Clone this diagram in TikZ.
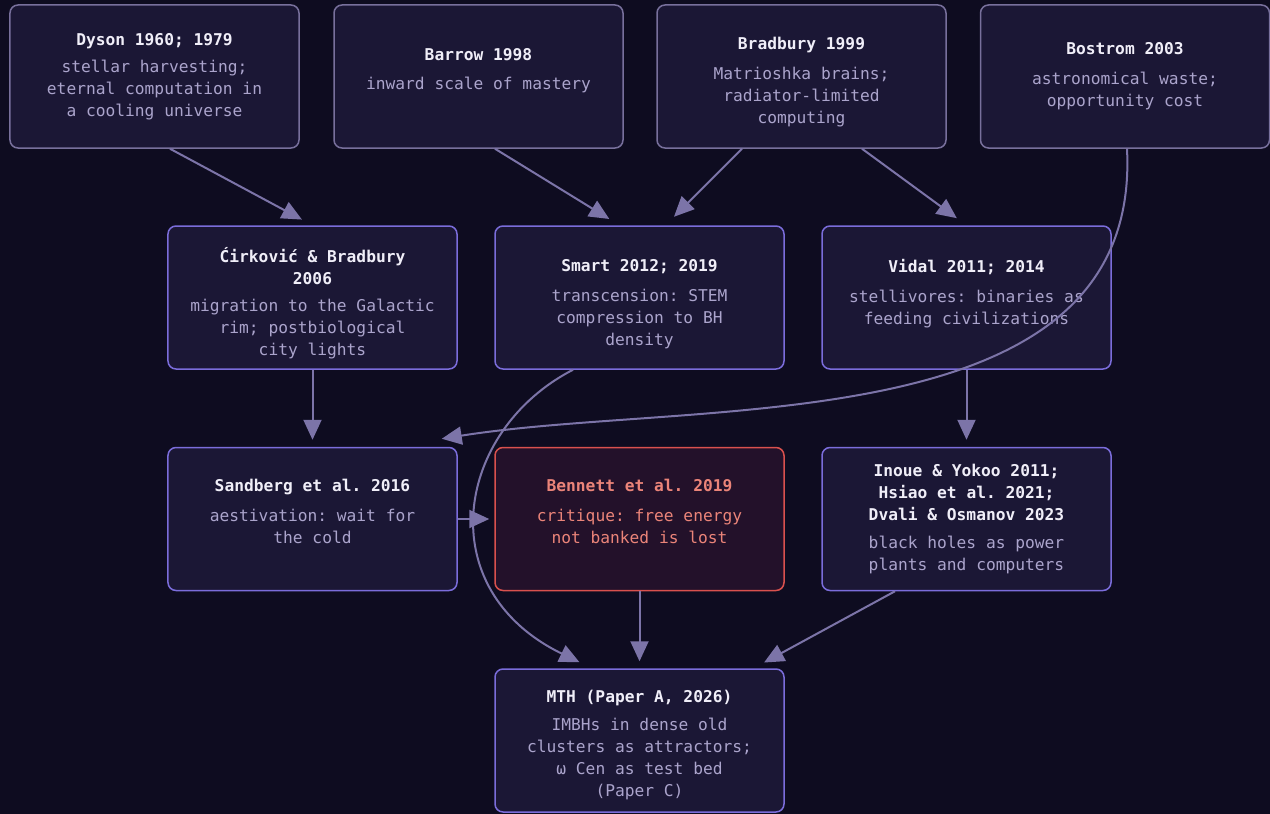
\documentclass[tikz,border=0pt]{standalone}
\usepackage{fontspec}
\newfontfamily\codefont{DejaVu Sans Mono}
\usetikzlibrary{arrows.meta}
\definecolor{bg}{HTML}{0E0C20}
\definecolor{card}{HTML}{1B1735}
\definecolor{muted}{HTML}{78709C}
\definecolor{accent}{HTML}{7B6DDB}
\definecolor{head}{HTML}{F0EEF8}
\definecolor{body}{HTML}{ABA4CC}
\definecolor{wire}{HTML}{7C74A8}
\definecolor{crit}{HTML}{D9514E}
\definecolor{critfill}{HTML}{23112A}
\definecolor{crittext}{HTML}{EB8479}
\newcommand{\head}[1]{{\bfseries\color{head}#1}}
\newcommand{\monospace}{\spaceskip=0.602em\relax\xspaceskip=0.602em\relax}
\tikzset{
  font=\codefont\fontsize{16.3}{22}\selectfont,
  box/.style={draw=accent, fill=card, rounded corners=8bp, line width=1.5bp, align=center, text width=280bp, minimum width=289bp, minimum height=143bp, inner sep=0pt, text=body, execute at begin node=\monospace},
  source/.style={box, draw=muted},
  critique/.style={box, draw=crit, fill=critfill, text=crittext},
  drop/.style={execute at begin node={\monospace\rule{0pt}{#1}}},
  lift/.style={execute at end node={\rule[-#1]{0pt}{#1}}},
  arrow/.style={-{Triangle[length=20bp, width=18bp]}, draw=wire, line width=2bp, shorten >=7bp},
  slant/.style={arrow, shorten >=12bp},
}
\begin{document}
\begin{tikzpicture}[x=1bp, y=-1bp]
\useasboundingbox (0,0) rectangle (1270,814);
\fill[bg] (0,0) rectangle (1270,814);
% --- row 1: sources
\node[source] (dyson) at (154.5,76.5) {\head{Dyson 1960; 1979}\\[5bp]stellar harvesting;\\eternal computation in\\a cooling universe};
\node[source, lift=15bp] (barrow) at (478.5,76.5) {\head{Barrow 1998}\\[8bp]inward scale of mastery};
\node[source, drop=24bp] (bradbury) at (801.5,76.5) {\head{Bradbury 1999}\\[8bp]Matrioshka brains;\\radiator-limited\\computing};
\node[source] (bostrom) at (1125,76.5) {\head{Bostrom 2003}\\[8bp]astronomical waste;\\opportunity cost};
% --- row 2
\node[box, drop=26bp] (cirk) at (312.5,297.5) {\head{Ćirković \& Bradbury\\2006}\\[5bp]migration to the Galactic\\rim; postbiological\\city lights};
\node[box, drop=25bp] (smart) at (639.5,297.5) {\head{Smart 2012; 2019}\\[8bp]transcension: STEM\\compression to BH\\density};
\node[box, lift=11bp] (vidal) at (966.5,297.5) {\head{Vidal 2011; 2014}\\[8bp]stellivores: binaries as\\feeding civilizations};
% --- row 3
\node[box, lift=16bp] (sandberg) at (312.5,519) {\head{Sandberg et al. 2016}\\[8bp]aestivation: wait for\\the cold};
\node[critique, lift=16bp] (bennett) at (639.5,519) {\textbf{Bennett et al. 2019}\\[8bp]critique: free energy\\not banked is lost};
\node[box] (inoue) at (966.5,519) {\head{Inoue \& Yokoo 2011;\\Hsiao et al. 2021;\\Dvali \& Osmanov 2023}\\[6bp]black holes as power\\plants and computers};
% --- row 4: target
\node[box, drop=22bp] (mth) at (639.5,740.5) {\head{MTH (Paper A, 2026)}\\[6bp]IMBHs in dense old\\clusters as attractors;\\ω Cen as test bed\\(Paper C)};
% --- connectors
\draw[slant] ([xshift=15.5bp]dyson.south) -- (cirk.north);
\draw[slant] ([xshift=16.5bp]barrow.south) -- ([xshift=-20bp]smart.north);
\draw[slant] ([xshift=-59.5bp]bradbury.south) -- ([xshift=26bp]smart.north);
\draw[slant] ([xshift=60.5bp]bradbury.south) -- (vidal.north);
\draw[arrow] (cirk) -- (sandberg);
\draw[arrow, shorten >=5bp] (sandberg) -- (bennett);
\draw[arrow] (vidal) -- (inoue);
\draw[arrow] (bennett) -- (mth);
\draw[slant] ([xshift=-71.5bp]inoue.south) -- ([xshift=114bp]mth.north);
\draw[arrow, shorten >=0pt] ([xshift=2bp]bostrom.south) .. controls +(15,296) and +(259,-41) .. ([xshift=-16bp, yshift=8bp]sandberg.north east);
\draw[arrow, shorten >=0pt] ([xshift=-66.5bp]smart.south) .. controls +(-118,61) and +(-150,-73) .. ([xshift=-60bp, yshift=6bp]mth.north);
\end{tikzpicture}
\end{document}
